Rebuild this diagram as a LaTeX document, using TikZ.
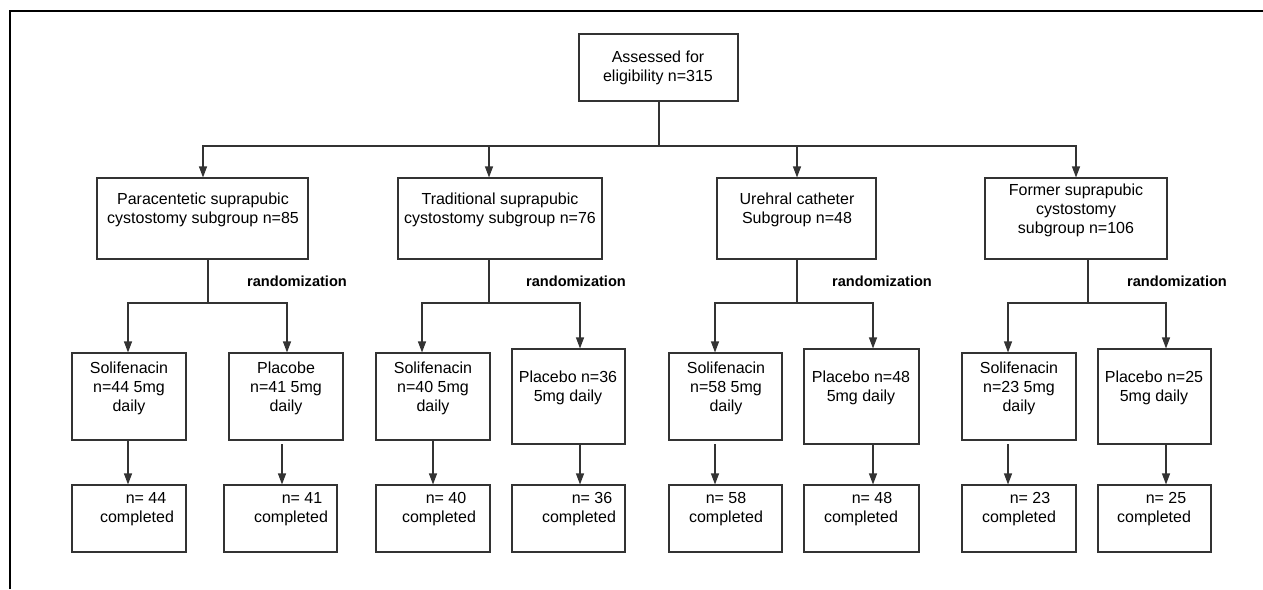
\documentclass[tikz,border=0pt]{standalone}
\usepackage{fontspec}
\setmainfont{Liberation Sans}
\usetikzlibrary{arrows.meta,fit}
\begin{document}
\begin{tikzpicture}[x=1pt,y=-1pt,
  box/.style={draw=black!80, line width=1.1pt, inner sep=0pt, fit={#1}},
  txt/.style={font=\fontsize{16}{19}\selectfont, align=center, inner sep=0pt},
  rnd/.style={font=\fontsize{14.6}{17}\selectfont\bfseries, inner sep=0pt},
  conn/.style={draw=black!80, line width=1.1pt},
  arr/.style={conn, -{Triangle[length=11pt,width=8pt]}},
  frame/.style={draw=black, line width=1.2pt}]
\useasboundingbox (0,0) rectangle (1263,589);
% partial frame
\coordinate (fl) at (10,589);
\coordinate (fc) at (10,11);
\coordinate (fr) at (1263,11);
\draw[frame] (fl) -- (fc) -- (fr);

% top box
\node[box={(579,34) (738,101)}] (top) {};
\node[txt] (toptxt) at (658,68) {Assessed for\\eligibility n=315};

% level 2 boxes
\node[box={(97,178) (308,259)}] (s1) {};
\node[box={(398,178) (602,259)}] (s2) {};
\node[box={(717,178) (876,259)}] (s3) {};
\node[box={(985,178) (1167,259)}] (s4) {};
\node[txt] (s1t) at (203,210) {Paracentetic suprapubic\\cystostomy subgroup n=85};
\node[txt] (s2t) at (500,210) {Traditional suprapubic\\cystostomy subgroup n=76};
\node[txt] (s3t) at (797,210) {Urehral catheter\\Subgroup n=48};
\node[txt] (s4t) at (1076,210) {Former suprapubic\\cystostomy\\ subgroup n=106};

% randomization labels
\node[rnd] (r1) at (297,281) {randomization};
\node[rnd] (r2) at (576,281) {randomization};
\node[rnd] (r3) at (882,281) {randomization};
\node[rnd] (r4) at (1177,281) {randomization};

% level 3 boxes
\node[box={(72,353) (186,440)}] (a1) {};
\node[box={(229,353) (343,440)}] (b1) {};
\node[box={(376,353) (490,440)}] (a2) {};
\node[box={(512,349) (625,444)}] (b2) {};
\node[box={(669,353) (782,440)}] (a3) {};
\node[box={(804,349) (919,444)}] (b3) {};
\node[box={(962,353) (1076,440)}] (a4) {};
\node[box={(1098,349) (1211,444)}] (b4) {};
\node[txt] (a1t) at (129,388) {Solifenacin\\n=44 5mg\\daily};
\node[txt] (b1t) at (286,388) {Placobe\\n=41 5mg\\daily};
\node[txt] (a2t) at (433,388) {Solifenacin\\n=40 5mg\\daily};
\node[txt] (b2t) at (568,388) {Placebo n=36\\5mg daily};
\node[txt] (a3t) at (726,388) {Solifenacin\\n=58 5mg\\daily};
\node[txt] (b3t) at (861,388) {Placebo n=48\\5mg daily};
\node[txt] (a4t) at (1019,388) {Solifenacin\\n=23 5mg\\daily};
\node[txt] (b4t) at (1154,388) {Placebo n=25\\5mg daily};

% completed boxes
\node[box={(72,485) (186,552)}] (ca1) {};
\node[box={(224,485) (337,552)}] (cb1) {};
\node[box={(376,485) (490,552)}] (ca2) {};
\node[box={(512,485) (625,552)}] (cb2) {};
\node[box={(669,485) (782,552)}] (ca3) {};
\node[box={(804,485) (919,552)}] (cb3) {};
\node[box={(962,485) (1076,552)}] (ca4) {};
\node[box={(1098,485) (1211,552)}] (cb4) {};
\node[txt] (ca1t) at (137,509) {\hspace*{18pt}n= 44\\completed};
\node[txt] (cb1t) at (291,509) {\hspace*{22pt}n= 41\\completed};
\node[txt] (ca2t) at (439,509) {\hspace*{14pt}n= 40\\completed};
\node[txt] (cb2t) at (579,509) {\hspace*{26pt}n= 36\\completed};
\node[txt] (ca3t) at (726,509) {n= 58\\completed};
\node[txt] (cb3t) at (861,509) {\hspace*{22pt}n= 48\\completed};
\node[txt] (ca4t) at (1019,509) {\hspace*{22pt}n= 23\\completed};
\node[txt] (cb4t) at (1154,509) {\hspace*{24pt}n= 25\\completed};

% connectors level 1 -> 2
\coordinate (j0) at (659,146);
\coordinate (x1) at (203,0);
\coordinate (x2) at (489,0);
\coordinate (x3) at (797,0);
\coordinate (x4) at (1076,0);
\draw[conn] (top.south -| j0) -- (j0);
\draw[arr] (j0) -| (s1.north -| x1);
\draw[arr] (j0) -| (s2.north -| x2);
\draw[arr] (j0) -| (s3.north -| x3);
\draw[arr] (j0) -| (s4.north -| x4);

% randomization branches
\coordinate (k1) at (208,303);
\coordinate (k2) at (489,303);
\coordinate (k3) at (797,303);
\coordinate (k4) at (1088,303);
\coordinate (p1) at (128,0);  \coordinate (q1) at (287,0);
\coordinate (p2) at (422,0);  \coordinate (q2) at (580,0);
\coordinate (p3) at (715,0);  \coordinate (q3) at (873,0);
\coordinate (p4) at (1008,0); \coordinate (q4) at (1166,0);
\foreach \i in {1,2,3,4} {
  \draw[conn] (s\i.south -| k\i) -- (k\i);
  \draw[arr] (k\i) -| (a\i.north -| p\i);
  \draw[arr] (k\i) -| (b\i.north -| q\i);
}

% level 3 -> completed
\coordinate (g) at (0,444);
\coordinate (u1) at (282,0);
\coordinate (v2) at (433,0);
\draw[arr] (a1.south -| p1) -- (ca1.north -| p1);
\draw[arr] (g -| u1) -- (cb1.north -| u1);
\draw[arr] (a2.south -| v2) -- (ca2.north -| v2);
\draw[arr] (b2.south -| q2) -- (cb2.north -| q2);
\draw[arr] (g -| p3) -- (ca3.north -| p3);
\draw[arr] (b3.south -| q3) -- (cb3.north -| q3);
\draw[arr] (g -| p4) -- (ca4.north -| p4);
\draw[arr] (b4.south -| q4) -- (cb4.north -| q4);
\end{tikzpicture}
\end{document}
